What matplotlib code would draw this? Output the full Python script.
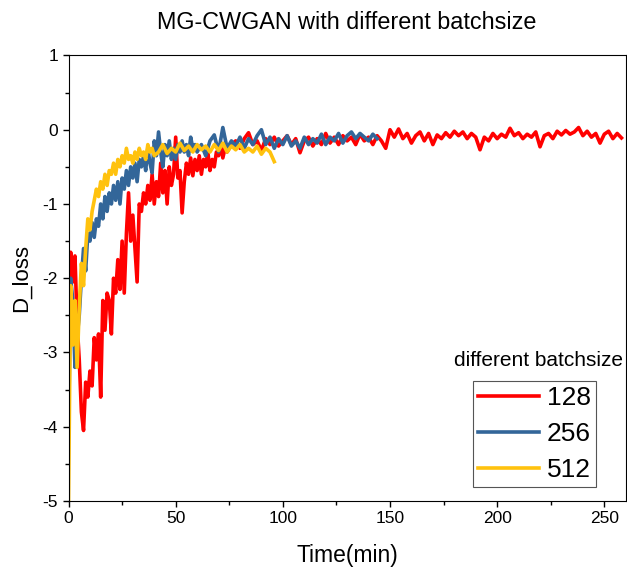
import numpy as np
import matplotlib.pyplot as plt

plt.rcParams['font.family'] = ['Liberation Sans', 'DejaVu Sans']
plt.rcParams['axes.unicode_minus'] = False

# batch 128 (red): 1-min samples up to 74 min, then 2-min samples
red_early = [-3.0, -1.65, -2.05, -1.7, -2.6, -3.1, -3.8, -4.05, -3.4, -3.6,
             -3.25, -3.45, -2.8, -3.1, -2.75, -3.6, -2.3, -2.7, -2.2, -2.3,
             -2.75, -2.0, -2.2, -1.75, -2.15, -1.5, -2.2, -1.4, -0.85, -1.5,
             -1.15, -1.6, -2.05, -1.0, -1.1, -0.85, -1.0, -0.75, -0.95, -0.6,
             -1.0, -0.7, -0.9, -0.45, -0.85, -0.55, -1.0, -0.5, -0.75, -0.6,
             -0.1, -0.65, -0.55, -1.12, -0.7, -0.45, -0.6, -0.38, -0.62, -0.4,
             -0.55, -0.35, -0.6, -0.4, -0.5, -0.3, -0.55, -0.4, -0.5, -0.3,
             -0.35, -0.22, -0.38, -0.25, -0.3]
red_late = [-0.2, -0.15, -0.25, -0.12, -0.04, -0.2, -0.15, -0.28, -0.12, -0.2,
            -0.1, -0.22, -0.15, -0.08, -0.2, -0.12, -0.31, -0.15, -0.1, -0.22,
            -0.12, -0.2, -0.05, -0.18, -0.1, -0.2, -0.08, -0.15, -0.1, -0.2,
            -0.06, -0.15, -0.1, -0.2, -0.08, -0.15, -0.25, 0.0, -0.1, 0.01,
            -0.12, -0.05, -0.18, -0.08, -0.03, -0.15, -0.05, -0.2, -0.07, -0.12,
            -0.04, -0.1, -0.02, -0.08, -0.03, -0.12, -0.05, -0.1, -0.27, -0.1,
            -0.15, -0.05, -0.12, -0.06, -0.1, 0.02, -0.08, -0.04, -0.12, -0.06,
            -0.1, -0.03, -0.23, -0.08, -0.05, -0.12, -0.02, -0.07, -0.01, -0.06,
            -0.03, 0.03, -0.08, -0.02, -0.1, -0.05, -0.18, -0.06, -0.02, -0.12,
            -0.05, -0.11]

# batch 256 (blue)
blue_early = [-4.1, -2.0, -2.3, -3.2, -2.8, -2.5, -2.0, -1.6, -1.9, -1.4,
              -1.5, -1.25, -1.45, -1.2, -1.3, -1.0, -1.2, -0.9, -1.1, -0.85,
              -1.0, -0.75, -0.95, -0.7, -1.0, -0.65, -0.8, -0.55, -0.75, -0.5,
              -0.65, -0.45, -0.7, -0.4, -0.5, -0.35, -0.55, -0.25, -0.45, -0.58,
              -0.15, -0.35, -0.03, -0.3, -0.5, -0.2, -0.35, -0.15, -0.4, -0.25,
              -0.4, -0.2, -0.3, -0.15, -0.3, -0.2, -0.35, -0.1, -0.25, -0.2,
              -0.3]
blue_late = [-0.2, -0.35, -0.15, -0.07, -0.3, 0.03, -0.25, -0.15, -0.22, -0.1,
             -0.25, -0.12, -0.2, -0.08, 0.0, -0.2, -0.1, -0.25, -0.12, -0.2,
             -0.08, -0.22, -0.15, -0.25, -0.1, -0.2, -0.12, -0.18, -0.06, -0.2,
             -0.1, -0.15, -0.05, -0.18, -0.08, -0.03, -0.12, -0.05, -0.1, -0.15,
             -0.06, -0.12]

# batch 512 (yellow)
yellow_early = [-5.0, -2.1, -2.9, -2.3, -3.2, -2.4, -1.8, -2.1, -1.6, -1.2,
                -1.35, -1.1, -0.95, -0.8, -0.9, -0.7, -0.8, -0.6, -0.75, -0.55,
                -0.6, -0.45, -0.6, -0.4, -0.5, -0.35, -0.45, -0.25, -0.4, -0.35,
                -0.45, -0.3, -0.4, -0.25, -0.35, -0.3, -0.4, -0.2, -0.3, -0.25,
                -0.35]
yellow_late = [-0.3, -0.2, -0.32, -0.25, -0.3, -0.18, -0.28, -0.22, -0.3, -0.2,
               -0.27, -0.22, -0.3, -0.2, -0.28, -0.18, -0.3, -0.22, -0.27, -0.2,
               -0.3, -0.25, -0.3, -0.22, -0.33, -0.25, -0.3, -0.43]

red_t = np.concatenate([np.arange(0, 75), np.arange(76, 259, 2)])
red_v = red_early + red_late
blue_t = np.concatenate([np.arange(0, 61), np.arange(62, 145, 2)])
blue_v = blue_early + blue_late
yellow_t = np.concatenate([np.arange(0, 41), np.arange(42, 97, 2)])
yellow_v = yellow_early + yellow_late

fig = plt.figure(figsize=(6.27, 5.69), dpi=100)
ax = fig.add_axes([0.1093, 0.1195, 0.8887, 0.783])

ax.plot(red_t, red_v, color='#ff0000', lw=2.6, label='128')
ax.plot(blue_t, blue_v, color='#336699', lw=2.6, label='256')
ax.plot(yellow_t, yellow_v, color='#ffc20e', lw=2.6, label='512')

ax.set_xlim(0, 260)
ax.set_ylim(-5, 1)
ax.set_xticks([0, 50, 100, 150, 200, 250])
ax.set_xticks(np.arange(25, 260, 50), minor=True)
ax.set_yticks(np.arange(-5, 2, 1))
ax.set_yticks(np.arange(-4.5, 1, 1), minor=True)
ax.tick_params(which='both', direction='out', length=4, width=1, labelsize=12.5,
               top=False, right=False)
ax.tick_params(which='minor', length=3)

ax.set_title('MG-CWGAN with different batchsize', fontsize=16.8, pad=19)
ax.set_xlabel('Time(min)', fontsize=16.5, labelpad=13)
ax.set_ylabel('D_loss', fontsize=16, labelpad=8)

# legend box with the title drawn above it as plain text
leg = ax.legend(loc='lower right', bbox_to_anchor=(0.947, 0.031), borderaxespad=0,
                fontsize=19, handlelength=2.3, handletextpad=0.3, labelspacing=0.45,
                fancybox=False, framealpha=1, borderpad=0.2)
leg.get_frame().set_edgecolor('#555555')
leg.get_frame().set_linewidth(0.8)
ax.text(0.843, 0.316, 'different batchsize', transform=ax.transAxes,
        ha='center', va='center', fontsize=15)

plt.savefig('out.png', dpi=100)
